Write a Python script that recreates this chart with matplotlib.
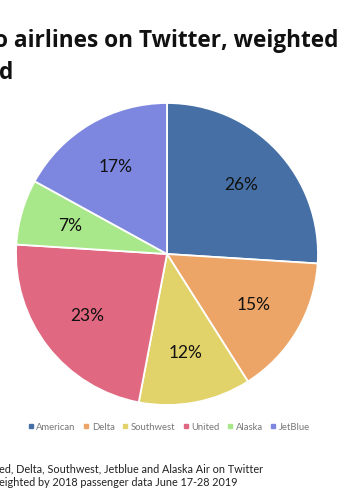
import matplotlib
matplotlib.use("Agg")
import matplotlib.pyplot as plt
from matplotlib.lines import Line2D

airlines = ["American", "Delta", "Southwest", "United", "Alaska", "JetBlue"]
shares = [26, 15, 12, 23, 7, 17]
colors = ["#4670a5", "#eca567", "#e2d26a", "#e06880", "#a8e88a", "#7e87e0"]
title_lines = ["o airlines on Twitter, weighted", "d"]
footer_lines = ["ed, Delta, Southwest, Jetblue and Alaska Air on Twitter",
                "eighted by 2018 passenger data June 17-28 2019"]

plt.rcParams['font.family'] = ['Lato', 'DejaVu Sans']

W, H = 360, 500
fig = plt.figure(figsize=(W / 100, H / 100), dpi=100)
fig.patch.set_facecolor("white")

cx, cy, r = 167, 254, 151
ax = fig.add_axes([(cx - r) / W, (H - cy - r) / H, 2 * r / W, 2 * r / H])
ax.pie(shares, colors=colors, startangle=90, counterclock=False,
       autopct=lambda p: f"{p:.0f}%", pctdistance=0.67, radius=1,
       wedgeprops=dict(edgecolor="white", linewidth=1.3),
       textprops=dict(fontsize=12.5, color="#111111"))
ax.set_xlim(-1, 1)
ax.set_ylim(-1, 1)
ax.set_aspect("equal")
ax.axis("off")

tfont = ['Open Sans', 'DejaVu Sans']
fig.text(-6 / W, 1 - 47 / H, title_lines[0], fontsize=16.3, fontweight="bold",
         family=tfont, ha="left", va="baseline", color="#111111")
fig.text(-1 / W, 1 - 79 / H, title_lines[1], fontsize=16.3, fontweight="bold",
         family=tfont, ha="left", va="baseline", color="#111111")

handles = [Line2D([0], [0], marker="s", linestyle="none", markersize=3.2,
                  markerfacecolor=c, markeredgecolor=c) for c in colors]
fig.legend(handles, airlines, loc="center", bbox_to_anchor=(169 / W, 1 - 427 / H),
           ncol=6, frameon=False, fontsize=6.8, labelcolor="#777777",
           handlelength=0.6, handletextpad=0.3, columnspacing=0.8,
           borderaxespad=0, borderpad=0)

fig.text(-1 / W, 1 - 469 / H, footer_lines[0], fontsize=7.8, ha="left", va="center",
         color="#222222")
fig.text(-1 / W, 1 - 482 / H, footer_lines[1], fontsize=7.8, ha="left", va="center",
         color="#222222")

fig.savefig("out.png", dpi=100, facecolor="white")
